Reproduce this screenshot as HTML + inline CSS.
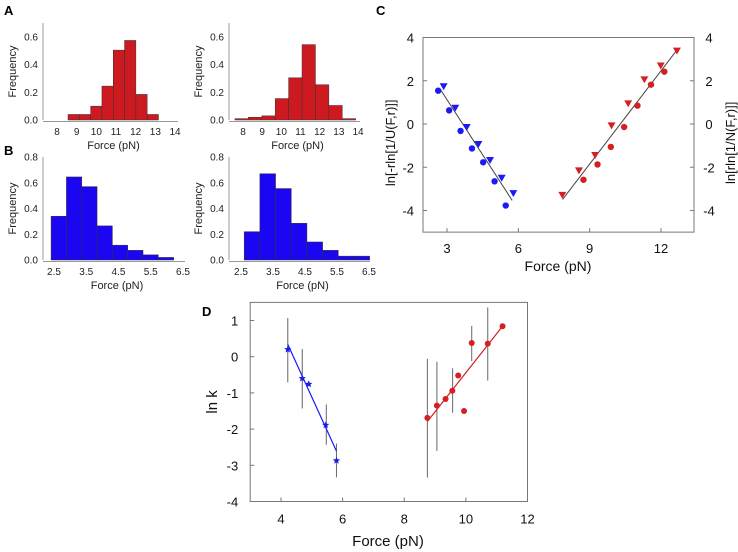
<!DOCTYPE html>
<html><head><meta charset="utf-8"><style>
html,body{margin:0;padding:0;background:#fff;}
svg{display:block;font-family:"Liberation Sans",Arial,sans-serif;}
</style></head><body>
<svg id="fig" width="738" height="552" viewBox="0 0 738 552" xmlns="http://www.w3.org/2000/svg">
<text x="4" y="15" font-size="13" font-weight="bold">A</text>
<text x="4" y="155" font-size="13" font-weight="bold">B</text>
<text x="376" y="15" font-size="13" font-weight="bold">C</text>
<text x="202" y="316" font-size="13" font-weight="bold">D</text>
</svg>
<script>
// Panel A data
const a1Start = 8.56, a1Width = 0.575;
const a1Freq = [0.04,0.04,0.1,0.245,0.505,0.575,0.185,0.04];
const a2Start = 7.58, a2Width = 0.70;
const a2Freq = [0.01,0.02,0.03,0.155,0.305,0.545,0.255,0.105,0.01];
const aXTicks = [8,9,10,11,12,13,14];
const aYTicks = [0.0,0.2,0.4,0.6];
// Panel B data
const b1Start = 2.41, b1Width = 0.475;
const b1Freq = [0.34,0.645,0.57,0.265,0.115,0.075,0.04,0.02];
const b2Start = 2.6, b2Width = 0.49;
const b2Freq = [0.22,0.67,0.555,0.285,0.14,0.075,0.03,0.03];
const bXTicks = [2.5,3.5,4.5,5.5,6.5];
const bYTicks = [0.0,0.2,0.4,0.6,0.8];
// Panel C data
const cBlueCircX = [2.63,3.09,3.57,4.05,4.52,5.0,5.47];
const cBlueCircY = [1.54,0.63,-0.32,-1.13,-1.77,-2.65,-3.77];
const cBlueTriX = [2.86,3.35,3.83,4.32,4.81,5.30,5.79];
const cBlueTriY = [1.73,0.74,-0.15,-0.94,-1.68,-2.5,-3.21];
const cBlueFitX = [2.72,5.74];
const cBlueFitY = [1.6,-3.53];
const cRedTriX = [7.85,8.55,9.23,9.92,10.62,11.3,11.99,12.67];
const cRedTriY = [-3.29,-2.16,-1.45,-0.08,0.94,2.05,2.69,3.38];
const cRedCircX = [8.74,9.33,9.89,10.45,11.01,11.58,12.14];
const cRedCircY = [-2.58,-1.87,-1.06,-0.14,0.85,1.82,2.42];
const cRedFitX = [7.86,12.62];
const cRedFitY = [-3.49,3.35];
const cXTicks = [3,6,9,12];
const cYTicks = [4,2,0,-2,-4];
// Panel D data
const dBlueX = [4.22,4.69,4.9,5.45,5.8];
const dBlueY = [0.2,-0.6,-0.76,-1.89,-2.87];
const dBlueErrX = [4.22,4.69,5.47,5.8];
const dBlueErrHi = [1.07,0.21,-1.32,-2.4];
const dBlueErrLo = [-0.71,-1.43,-2.43,-3.33];
const dBlueFitX = [4.22,5.8];
const dBlueFitY = [0.34,-2.61];
const dRedX = [8.75,9.06,9.34,9.56,9.75,9.94,10.19,10.71,11.19];
const dRedY = [-1.69,-1.35,-1.17,-0.94,-0.52,-1.5,0.38,0.36,0.84];
const dRedErrX = [8.75,9.06,9.57,10.19,10.71];
const dRedErrHi = [-0.06,-0.14,-0.32,0.85,1.36];
const dRedErrLo = [-3.34,-2.6,-1.55,-0.12,-0.66];
const dRedFitX = [8.75,11.19];
const dRedFitY = [-1.79,0.84];
const dXTicks = [4,6,8,10,12];
const dYTicks = [1,0,-1,-2,-3,-4];

const NS = "http://www.w3.org/2000/svg";
const svg = document.getElementById('fig');
function mk(tag, attrs, parent){
  const e = document.createElementNS(NS, tag);
  for (const k in attrs) e.setAttribute(k, attrs[k]);
  (parent||svg).appendChild(e);
  return e;
}
function txt(s, attrs, parent){ const t = mk('text', attrs, parent); t.textContent = s; return t; }
function lin(x0,x1,p0,p1){ return v => p0 + (v-x0)*(p1-p0)/(x1-x0); }

function hist(name, cfg){
  const g = mk('g', {});
  
  
  const X = lin(cfg.xt0, cfg.xt1, cfg.px0, cfg.px1);
  const Y = lin(0, cfg.ymaxTick, cfg.py0, cfg.py1);
  cfg.freq.forEach((f,i)=>{
    const x0 = X(cfg.start + i*cfg.width), x1 = X(cfg.start + (i+1)*cfg.width);
    const r = mk('rect', {x:x0, y:Y(f), width:x1-x0, height:Y(0)-Y(f), fill:cfg.color, stroke:'#333', 'stroke-width':0.5}, g);
    
    
  });
  const ya = mk('line', {x1:cfg.axX, y1:cfg.axTop, x2:cfg.axX, y2:Y(0), stroke:'#999', 'stroke-width':1}, g);
   
  const xa = mk('line', {x1:cfg.axX, y1:Y(0)+1.5, x2:cfg.axRight, y2:Y(0)+1.5, stroke:'#999', 'stroke-width':1}, g);
   
  cfg.yTicks.forEach(v=>{
    const t = txt(v.toFixed(1), {x:cfg.axX-5, y:Y(v)+3.5, 'font-size':10, 'text-anchor':'end', fill:'#222'}, g);
     
  });
  cfg.xTicks.forEach(v=>{
    const t = txt(String(v), {x:X(v), y:Y(0)+15, 'font-size':10, 'text-anchor':'middle', fill:'#222'}, g);
     
  });
  const yt = txt('Frequency', {x:0,y:0,'font-size':11,'text-anchor':'middle',fill:'#222',transform:`translate(${cfg.axX-27},${(cfg.axTop+Y(0))/2}) rotate(-90)`}, g);
   
  const xt = txt('Force (pN)', {x:(cfg.axX+cfg.axRight)/2+3, y:Y(0)+29, 'font-size':11,'text-anchor':'middle',fill:'#222'}, g);
   
}
hist('histogram-a-left', {start:a1Start,width:a1Width,freq:a1Freq,xt0:8,xt1:14,px0:57,px1:175,ymaxTick:0.6,py0:120,py1:37,axX:43,axTop:23,axRight:178,xTicks:aXTicks,yTicks:aYTicks,color:'#cc1a20'});
hist('histogram-a-right', {start:a2Start,width:a2Width,freq:a2Freq,xt0:8,xt1:14,px0:243,px1:358,ymaxTick:0.6,py0:120,py1:37,axX:229,axTop:23,axRight:360,xTicks:aXTicks,yTicks:aYTicks,color:'#cc1a20'});
hist('histogram-b-left', {start:b1Start,width:b1Width,freq:b1Freq,xt0:2.5,xt1:6.5,px0:54,px1:183,ymaxTick:0.8,py0:260,py1:157,axX:43,axTop:157,axRight:185,xTicks:bXTicks,yTicks:bYTicks,color:'#1a06f0'});
hist('histogram-b-right', {start:b2Start,width:b2Width,freq:b2Freq,xt0:2.5,xt1:6.5,px0:241,px1:369,ymaxTick:0.8,py0:260,py1:157,axX:229,axTop:157,axRight:370,xTicks:bXTicks,yTicks:bYTicks,color:'#1a06f0'});

function marker(g, type, cx, cy, color, r){
  let e;
  if (type==='circle') e = mk('circle', {cx, cy, r, fill:color}, g);
  else if (type==='tri') e = mk('polygon', {points:`${cx-r*1.2},${cy-r} ${cx+r*1.2},${cy-r} ${cx},${cy+r*1.1}`, fill:color}, g);
  else {
    let p=[]; for(let k=0;k<10;k++){const rr=k%2?r*0.45:r; const a=-Math.PI/2+k*Math.PI/5; p.push((cx+rr*Math.cos(a)).toFixed(1)+','+(cy+rr*Math.sin(a)).toFixed(1));}
    e = mk('polygon', {points:p.join(' '), fill:color}, g);
  }
  return e;
}

// Panel C
(function(){
  const g = mk('g', {});
  
  
  const X = lin(3, 12, 447, 661), Y = lin(0, 4, 124, 37.5);
  const L=423, R=694, T=Y(4), B=Y(-5);
  const box = mk('rect', {x:L, y:T, width:R-L, height:B-T, fill:'none', stroke:'#777', 'stroke-width':1}, g);
   
  cYTicks.forEach(v=>{
    mk('line',{x1:L,y1:Y(v),x2:L+4,y2:Y(v),stroke:'#777'},g);
    mk('line',{x1:R,y1:Y(v),x2:R-4,y2:Y(v),stroke:'#777'},g);
    const t1 = txt(String(v),{x:L-9,y:Y(v)+5,'font-size':13,'text-anchor':'end',fill:'#111'},g);
     
    const t2 = txt(String(v),{x:R+15,y:Y(v)+5,'font-size':13,'text-anchor':'middle',fill:'#111'},g);
     
  });
  cXTicks.forEach(v=>{
    mk('line',{x1:X(v),y1:B,x2:X(v),y2:B-4,stroke:'#777'},g);
    const t = txt(String(v),{x:X(v),y:B+21,'font-size':13,'text-anchor':'middle',fill:'#111'},g);
     
  });
  const yl = txt('ln[-rln[1/U(F,r)]]',{x:0,y:0,'font-size':13,'text-anchor':'middle',fill:'#111',transform:`translate(${395},${(T+B)/2+8}) rotate(-90)`},g);
   
  const yr = txt('ln[rln[1/N(F,r)]]',{x:0,y:0,'font-size':13,'text-anchor':'middle',fill:'#111',transform:`translate(${735},${(T+B)/2+8}) rotate(-90)`},g);
   
  const xl = txt('Force (pN)',{x:558,y:271,'font-size':14,'text-anchor':'middle',fill:'#111'},g);
   
  const f1 = mk('line',{x1:X(cBlueFitX[0]),y1:Y(cBlueFitY[0]),x2:X(cBlueFitX[1]),y2:Y(cBlueFitY[1]),stroke:'#444','stroke-width':1},g);
   
  const f2 = mk('line',{x1:X(cRedFitX[0]),y1:Y(cRedFitY[0]),x2:X(cRedFitX[1]),y2:Y(cRedFitY[1]),stroke:'#444','stroke-width':1},g);
   
  cBlueCircX.forEach((x,i)=>{ const m=marker(g,'circle',X(x),Y(cBlueCircY[i]),'#1a1af5',3.2);
      });
  cBlueTriX.forEach((x,i)=>{ const m=marker(g,'tri',X(x),Y(cBlueTriY[i]),'#1a1af5',3.3);
      });
  cRedCircX.forEach((x,i)=>{ const m=marker(g,'circle',X(x),Y(cRedCircY[i]),'#d41f23',3.2);
      });
  cRedTriX.forEach((x,i)=>{ const m=marker(g,'tri',X(x),Y(cRedTriY[i]),'#d41f23',3.3);
      });
})();

// Panel D
(function(){
  const g = mk('g', {});
  
  
  const X = lin(4, 12, 281, 527.5), Y = lin(0, 1, 356.7, 320.5);
  const L=X(3), R=X(12), T=Y(1.5), B=Y(-4);
  const box = mk('rect', {x:L, y:T, width:R-L, height:B-T, fill:'none', stroke:'#777', 'stroke-width':1}, g);
   
  dYTicks.forEach(v=>{
    mk('line',{x1:L,y1:Y(v),x2:L+4,y2:Y(v),stroke:'#777'},g);
    const t = txt(String(v),{x:L-12,y:Y(v)+5,'font-size':13,'text-anchor':'end',fill:'#111'},g);
     
  });
  dXTicks.forEach(v=>{
    mk('line',{x1:X(v),y1:B,x2:X(v),y2:B-4,stroke:'#777'},g);
    const t = txt(String(v),{x:X(v),y:B+22,'font-size':13,'text-anchor':'middle',fill:'#111'},g);
     
  });
  const yl = txt('ln k',{x:0,y:0,'font-size':15,'text-anchor':'middle',fill:'#111',transform:`translate(217,${(T+B)/2}) rotate(-90)`},g);
   
  const xl = txt('Force (pN)',{x:388,y:546,'font-size':15,'text-anchor':'middle',fill:'#111'},g);
   
  dBlueErrX.forEach((x,i)=>{ const e=mk('line',{x1:X(x),y1:Y(dBlueErrHi[i]),x2:X(x),y2:Y(dBlueErrLo[i]),stroke:'#666','stroke-width':1},g);
      });
  dRedErrX.forEach((x,i)=>{ const e=mk('line',{x1:X(x),y1:Y(dRedErrHi[i]),x2:X(x),y2:Y(dRedErrLo[i]),stroke:'#666','stroke-width':1},g);
      });
  const f1 = mk('line',{x1:X(dBlueFitX[0]),y1:Y(dBlueFitY[0]),x2:X(dBlueFitX[1]),y2:Y(dBlueFitY[1]),stroke:'#1a1af5','stroke-width':1.2},g);
   
  const f2 = mk('line',{x1:X(dRedFitX[0]),y1:Y(dRedFitY[0]),x2:X(dRedFitX[1]),y2:Y(dRedFitY[1]),stroke:'#d41f23','stroke-width':1.2},g);
   
  dBlueX.forEach((x,i)=>{ const m=marker(g,'star',X(x),Y(dBlueY[i]),'#1a1af5',3.8);
      });
  dRedX.forEach((x,i)=>{ const m=marker(g,'circle',X(x),Y(dRedY[i]),'#d41f23',3);
      });
})();
</script>
</body></html>
